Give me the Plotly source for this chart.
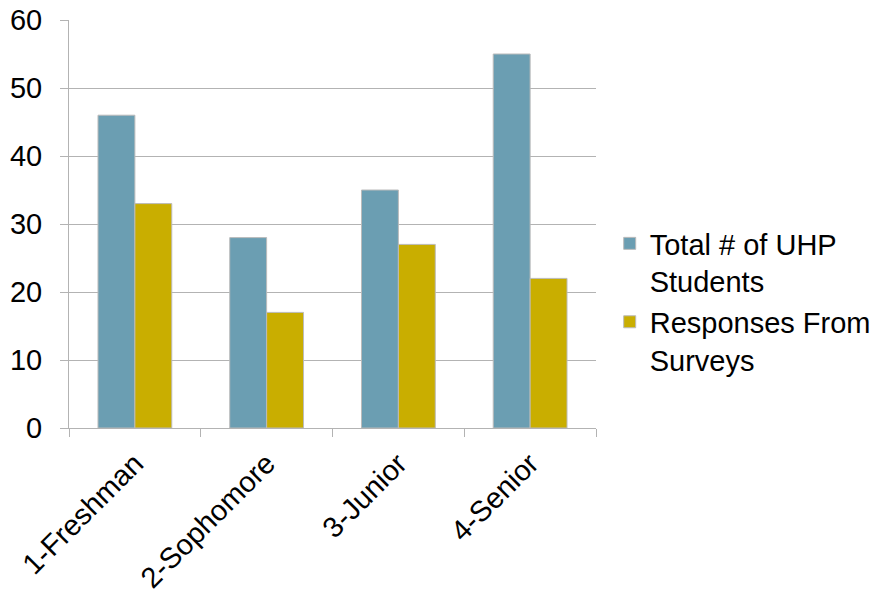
import plotly.graph_objects as go

categories = ["1-Freshman", "2-Sophomore", "3-Junior", "4-Senior"]
total_students = [46, 28, 35, 55]
survey_responses = [33, 17, 27, 22]
series_names = ["Total # of UHP<br>Students", "Responses From<br>Surveys"]
y_ticks = [0, 10, 20, 30, 40, 50, 60]

fig = go.Figure()
fig.add_trace(go.Bar(x=categories, y=total_students, name=series_names[0],
                     marker=dict(color="#6B9EB2", line=dict(color="#BBBBBB", width=1))))
fig.add_trace(go.Bar(x=categories, y=survey_responses, name=series_names[1],
                     marker=dict(color="#C9AE00", line=dict(color="#BBBBBB", width=1))))

fig.update_layout(
    width=885, height=593,
    margin=dict(l=69, r=289, t=20, b=165, autoexpand=False),
    paper_bgcolor="white", plot_bgcolor="white",
    barmode="group", bargap=0.44, bargroupgap=0,
    font=dict(family="Liberation Sans, Arial, sans-serif", size=29, color="black"),
    legend=dict(x=1.026, xanchor="left", y=0.31, yanchor="middle", valign="top",
                font=dict(size=29), tracegroupgap=8, itemwidth=30),
    showlegend=True,
)
fig.update_yaxes(range=[0, 60], tickvals=y_ticks, showgrid=True, gridcolor="#B3B3B3",
                 gridwidth=1, showline=True, linecolor="#B3B3B3", linewidth=1,
                 ticks="outside", ticklen=8, tickcolor="#B3B3B3", zeroline=False,
                 tickfont=dict(size=29), ticklabelstandoff=12, automargin=False)
fig.update_xaxes(showline=True, linecolor="#B3B3B3", linewidth=1, ticks="outside",
                 ticklen=8, tickcolor="#B3B3B3", tickson="boundaries",
                 tickangle=-45, tickfont=dict(size=29), ticklabelstandoff=6,
                 automargin=False)

fig.write_html("out.html")
